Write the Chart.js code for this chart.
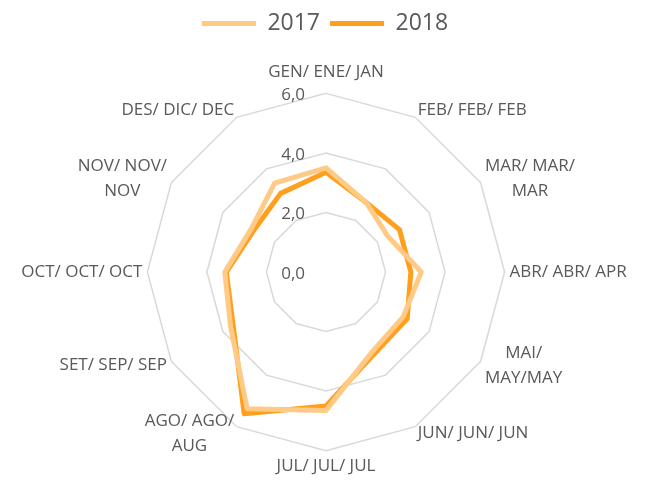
<!DOCTYPE html>
<html>
<head>
<meta charset="utf-8">
<script src="https://cdn.jsdelivr.net/npm/chart.js@4.4.0/dist/chart.umd.min.js"></script>
<style>
  html, body { margin: 0; padding: 0; background: #ffffff; }
  #wrap { width: 645px; height: 480px; }
</style>
</head>
<body>
<div id="wrap"><canvas id="c" width="645" height="480"></canvas></div>
<script>
// Month labels (Catalan / Spanish / English), multi-line where they wrap
const months = [
  'GEN/ ENE/ JAN',
  'FEB/ FEB/ FEB',
  ['MAR/ MAR/', 'MAR'],
  'ABR/ ABR/ APR',
  ['MAI/', 'MAY/MAY'],
  'JUN/ JUN/ JUN',
  'JUL/ JUL/ JUL',
  ['AGO/ AGO/', 'AUG'],
  'SET/ SEP/ SEP',
  'OCT/ OCT/ OCT',
  ['NOV/ NOV/', 'NOV'],
  'DES/ DIC/ DEC'
];
const seriesNames = ['2017', '2018'];
const values2017 = [3.5, 2.7, 2.4, 3.2, 3.0, 3.1, 4.65, 5.3, 3.7, 3.4, 2.9, 3.45];
const values2018 = [3.35, 2.7, 2.85, 2.85, 3.15, 3.2, 4.5, 5.5, 3.6, 3.35, 2.8, 3.05];
const axisMin = 0;
const axisMax = 6;
const axisStep = 2;

const textColor = '#595959';
const fontFamily = '"Open Sans", Lato, sans-serif';

// Extra space between the legend and the radar
const legendGap = {
  id: 'legendGap',
  beforeInit(chart) {
    const legend = chart.legend;
    const fit = legend.fit;
    legend.fit = function () {
      fit.call(this);
      this.height += 22;
    };
  }
};

// Radial tick values drawn left of the vertical axis, with a decimal comma
const tickLabelPlugin = {
  id: 'tickLabels',
  beforeDatasetsDraw(chart) {
    const scale = chart.scales.r;
    const ctx = chart.ctx;
    ctx.save();
    ctx.font = '17px ' + fontFamily;
    ctx.fillStyle = textColor;
    ctx.textAlign = 'right';
    ctx.textBaseline = 'middle';
    scale.ticks.forEach(t => {
      const d = scale.getDistanceFromCenterForValue(t.value);
      ctx.fillText(t.value.toFixed(1).replace('.', ','), scale.xCenter - 21, scale.yCenter - d + 2);
    });
    ctx.restore();
  }
};

// Month names beside each spoke, wrapped lines centred on one another
const monthLabelPlugin = {
  id: 'monthLabels',
  afterDraw(chart) {
    const scale = chart.scales.r;
    const ctx = chart.ctx;
    const lineH = 25;
    ctx.save();
    ctx.font = '17px ' + fontFamily;
    ctx.fillStyle = textColor;
    ctx.textAlign = 'center';
    ctx.textBaseline = 'middle';
    scale.getLabels().forEach((label, i) => {
      const lines = Array.isArray(label) ? label : [label];
      const w = Math.max(...lines.map(l => ctx.measureText(l).width));
      const h = lines.length * lineH;
      const a = scale.getIndexAngle(i) - Math.PI / 2;
      const dx = Math.cos(a);
      const dy = Math.sin(a);
      const p = scale.getPointPosition(i, scale.drawingArea + 5);
      let cx, cy;
      if (Math.abs(dx) < 0.05) {
        cx = p.x;
        cy = dy < 0 ? p.y - 16 : p.y + 11;
      } else {
        cx = dx > 0 ? p.x + w / 2 : p.x - w / 2;
        cy = p.y + 3 * dy;
      }
      lines.forEach((l, k) => ctx.fillText(l, cx, cy - h / 2 + lineH / 2 + k * lineH));
    });
    ctx.restore();
  }
};

new Chart(document.getElementById('c'), {
  type: 'radar',
  data: {
    labels: months,
    datasets: [
      {
        label: seriesNames[0],
        data: values2017,
        borderColor: '#FFCA86',
        backgroundColor: '#FFCA86',
        borderWidth: 5,
        borderCapStyle: 'round',
        borderJoinStyle: 'round',
        pointRadius: 0,
        pointHoverRadius: 0,
        fill: false
      },
      {
        label: seriesNames[1],
        data: values2018,
        borderColor: '#FF9F1C',
        backgroundColor: '#FF9F1C',
        borderWidth: 5,
        borderCapStyle: 'round',
        borderJoinStyle: 'round',
        pointRadius: 0,
        pointHoverRadius: 0,
        fill: false
      }
    ]
  },
  options: {
    responsive: false,
    animation: false,
    events: [],
    layout: { padding: { left: 5, right: 0, top: 2, bottom: 3 } },
    plugins: {
      tooltip: { enabled: false },
      legend: {
        position: 'top',
        labels: {
          usePointStyle: true,
          pointStyle: 'line',
          pointStyleWidth: 54,
          boxHeight: 5,
          color: textColor,
          font: { family: fontFamily, size: 23 },
          padding: 10
        }
      }
    },
    scales: {
      r: {
        min: axisMin,
        max: axisMax,
        ticks: { stepSize: axisStep, display: false },
        grid: { color: '#D9D9D9', lineWidth: 1.5 },
        angleLines: { display: false },
        pointLabels: {
          // sized for layout; the visible text is painted by monthLabelPlugin
          color: 'rgba(0,0,0,0)',
          font: { family: fontFamily, size: 17 },
          padding: 6
        }
      }
    }
  },
  plugins: [legendGap, tickLabelPlugin, monthLabelPlugin]
});
</script>
</body>
</html>
